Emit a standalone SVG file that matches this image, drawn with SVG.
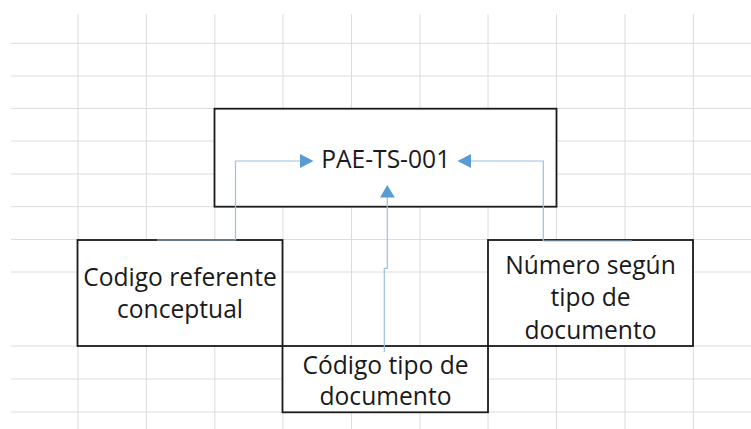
<svg xmlns="http://www.w3.org/2000/svg" width="751" height="429" viewBox="0 0 751 429">
<style>
.grid line{stroke:#dcdcdc;stroke-width:1}
.box{fill:#ffffff;stroke:#1a1a1a;stroke-width:1.8}
.lbl{font-family:"Open Sans","Noto Sans",sans-serif;font-size:24.6px;fill:#1a1a1a;text-anchor:middle}
.conn{fill:none;stroke:#9dbfe0;stroke-width:1.2}
.head{fill:#5b9bd5}
</style>
<rect width="751" height="429" fill="#ffffff"/>
<g class="grid">
<line x1="78" y1="14" x2="78" y2="429"/>
<line x1="146.4" y1="14" x2="146.4" y2="429"/>
<line x1="214.8" y1="14" x2="214.8" y2="429"/>
<line x1="283" y1="14" x2="283" y2="429"/>
<line x1="351.5" y1="14" x2="351.5" y2="429"/>
<line x1="420" y1="14" x2="420" y2="429"/>
<line x1="488" y1="14" x2="488" y2="429"/>
<line x1="556.5" y1="14" x2="556.5" y2="429"/>
<line x1="625" y1="14" x2="625" y2="429"/>
<line x1="693.4" y1="14" x2="693.4" y2="429"/>
<line x1="11" y1="43.3" x2="751" y2="43.3"/>
<line x1="11" y1="76" x2="751" y2="76"/>
<line x1="11" y1="108.5" x2="751" y2="108.5"/>
<line x1="11" y1="141" x2="751" y2="141"/>
<line x1="11" y1="174" x2="751" y2="174"/>
<line x1="11" y1="206.7" x2="751" y2="206.7"/>
<line x1="11" y1="239.5" x2="751" y2="239.5"/>
<line x1="11" y1="272" x2="751" y2="272"/>
<line x1="11" y1="346" x2="751" y2="346"/>
<line x1="11" y1="379" x2="751" y2="379"/>
<line x1="11" y1="412" x2="751" y2="412"/>
</g>
<g id="main">
<rect class="box" x="214.5" y="108.7" width="342" height="98"/>
<text class="lbl" x="385.7" y="167.5">PAE-TS-001</text>
</g>
<g id="left">
<rect class="box" x="77.5" y="240" width="205" height="106"/>
<text class="lbl" x="180" y="285.5">Codigo referente</text>
<text class="lbl" x="180" y="317.5">conceptual</text>
</g>
<g id="middle">
<rect class="box" x="282.5" y="346" width="205.5" height="66.3"/>
<text class="lbl" x="385.5" y="373.5">Código tipo de</text>
<text class="lbl" x="385.5" y="404.5">documento</text>
</g>
<g id="right">
<rect class="box" x="488" y="240" width="205" height="106"/>
<text class="lbl" x="590.5" y="273.5">Número según</text>
<text class="lbl" x="590.5" y="306">tipo de</text>
<text class="lbl" x="590.5" y="338.5">documento</text>
</g>
<g id="connectors">
<polyline class="conn" points="157,240 235.5,240 235.5,161 301,161"/>
<polygon class="head" points="313.5,161 300,154 300,168"/>
<polyline class="conn" points="632,241 543.3,241 543.3,161 470,161"/>
<polygon class="head" points="457.5,161 471,154 471,168"/>
<polyline class="conn" points="384.3,352 384.3,268.3 387.3,268.3 387.3,197"/>
<polygon class="head" points="387.3,185 380,197.5 394.8,197.5"/>
</g>
</svg>
